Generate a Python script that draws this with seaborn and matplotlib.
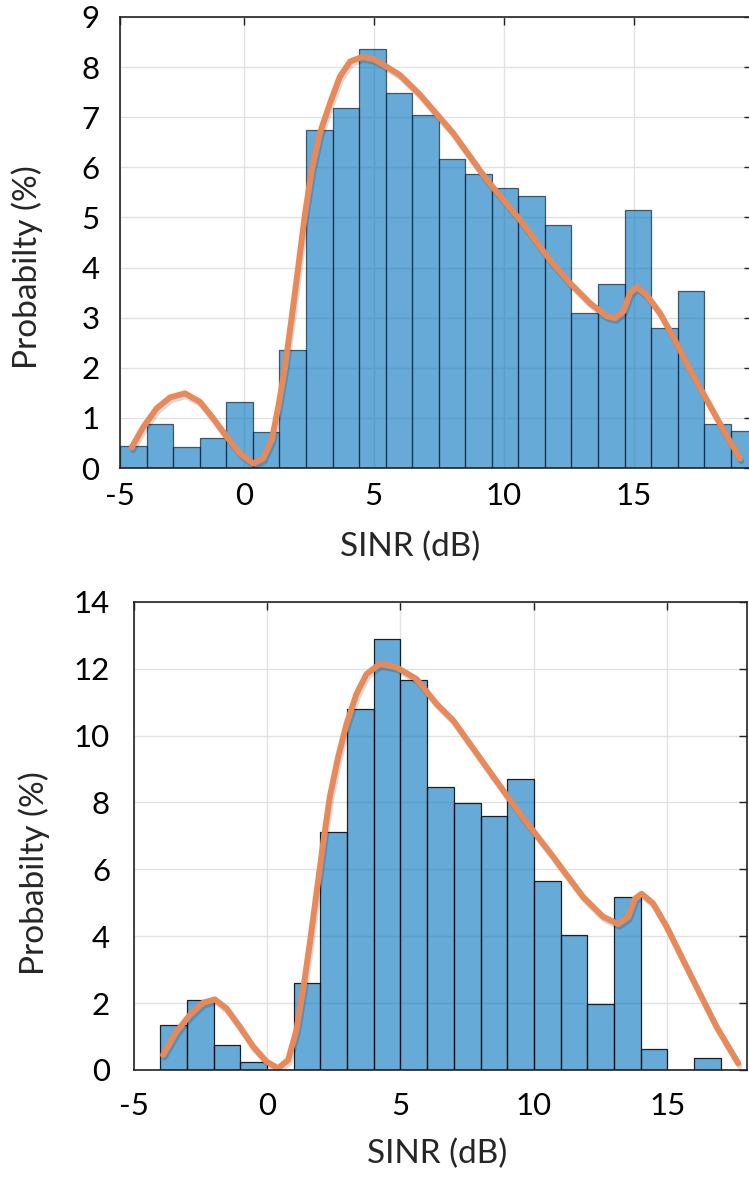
import numpy as np
import pandas as pd
import seaborn as sns
import matplotlib.pyplot as plt
import matplotlib.patheffects as pe

# --- data ---
# top panel: histogram heights (%) and smooth fit
top_heights = [0.43, 0.87, 0.42, 0.59, 1.31, 0.72, 2.35, 6.75, 7.19, 8.36, 7.48, 7.04,
               6.16, 5.87, 5.58, 5.42, 4.84, 3.09, 3.67, 5.14, 2.79, 3.53, 0.87, 0.73]
top_bin_start = -4.75
top_bin_width = 1.021
top_fit_x = [-4.31, -3.86, -3.35, -2.83, -2.26, -1.68, -1.17, -0.65, -0.14, 0.37, 0.75,
             1.08, 1.33, 1.59, 1.85, 2.1, 2.36, 2.62, 2.93, 3.32, 3.7, 4.09, 4.54, 4.98,
             5.24, 6.01, 6.78, 8.06, 9.35, 10.63, 11.78, 12.55, 13.32, 13.96, 14.28, 14.6,
             14.86, 15.12, 15.5, 16.01, 16.52, 17.17, 17.81, 18.45, 19.09]
top_fit_y = [0.41, 0.82, 1.19, 1.41, 1.49, 1.32, 0.99, 0.62, 0.29, 0.09, 0.19,
             0.56, 1.22, 2.02, 3.02, 4.02, 5.08, 5.95, 6.68, 7.28, 7.81, 8.11, 8.2, 8.16,
             8.09, 7.84, 7.45, 6.68, 5.75, 4.95, 4.15, 3.69, 3.29, 3.03, 2.99, 3.12,
             3.49, 3.61, 3.45, 3.09, 2.62, 1.96, 1.36, 0.76, 0.19]

# bottom panel
bot_heights = [1.34, 2.08, 0.74, 0.25, 0.0, 2.59, 7.13, 10.8, 12.89, 11.66, 8.46, 7.98,
               7.6, 8.71, 5.64, 4.05, 1.96, 5.16, 0.62, 0.0, 0.37]
bot_bin_start = -4.0
bot_bin_width = 1.0
bot_fit_x = [-3.9, -3.4, -2.9, -2.4, -1.96, -1.52, -1.02, -0.52, -0.02, 0.41, 0.79, 1.1,
             1.35, 1.6, 1.85, 2.1, 2.35, 2.66, 2.98, 3.35, 3.73, 4.23, 4.85, 5.6, 6.35,
             6.98, 8.23, 9.48, 10.73, 11.1, 11.85, 12.6, 13.16, 13.54, 13.79, 14.04, 14.47,
             14.98, 15.6, 16.22, 16.85, 17.66]
bot_fit_y = [0.45, 1.14, 1.64, 2.01, 2.11, 1.84, 1.29, 0.70, 0.25, 0.05, 0.30, 1.19,
             2.39, 3.78, 5.27, 6.77, 8.16, 9.35, 10.35, 11.24, 11.84, 12.14, 12.04, 11.69, 10.95,
             10.45, 9.05, 7.66, 6.37, 5.97, 5.17, 4.58, 4.36, 4.58, 5.12, 5.27, 4.98,
             4.28, 3.28, 2.29, 1.29, 0.2]

x_tick_labels = ["-5", "0", "5", "10", "15"]

sns.set_style("white")
plt.rcParams['font.family'] = ['Lato', 'DejaVu Sans']

BAR = (0.0, 0.447, 0.741, 0.6)
FIT = "#e8895a"
GRID = "#e2e2e2"

fig = plt.figure(figsize=(7.49, 11.78), dpi=100)


def draw_panel(ax, heights, start, width, fx, fy, edge, xpad, ypad):
    edges = start + width * np.arange(len(heights) + 1)
    df = pd.DataFrame({"sinr": (edges[:-1] + edges[1:]) / 2, "pct": heights})
    sns.histplot(data=df, x="sinr", weights="pct", bins=list(edges), ax=ax,
                 color="#0072bd", linewidth=0.9, zorder=2)
    for p in ax.patches:
        p.set_alpha(None)
        p.set_facecolor(BAR)
        p.set_edgecolor(edge)
    sns.lineplot(x=fx, y=fy, ax=ax, color=FIT, linewidth=4.3, sort=False,
                 estimator=None, zorder=3, solid_capstyle="round", solid_joinstyle="round",
                 path_effects=[pe.SimpleLineShadow(offset=(1, -2), alpha=0.15, shadow_color="k"),
                               pe.Normal()])
    ax.grid(True, color=GRID, linewidth=1, zorder=0)
    ax.set_axisbelow(True)
    for s in ax.spines.values():
        s.set_color("#222222")
        s.set_linewidth(1.2)
        s.set_zorder(4)
    ax.tick_params(direction="in", length=6, width=1, top=True, right=True,
                   labelsize=22.5, colors="#222222", labelcolor="black")
    ax.tick_params(axis="y", pad=ypad)
    ax.tick_params(axis="x", pad=xpad)
    ax.set_ylabel("Probabilty (%)", fontsize=24)
    ax.set_xlabel("SINR (dB)", fontsize=24)


# top panel
ax1 = fig.add_axes([0.1605, 0.6027, 0.8435, 0.3829])
draw_panel(ax1, top_heights, top_bin_start, top_bin_width, top_fit_x, top_fit_y,
           (0.05, 0.12, 0.2, 0.7), 10, 15)
ax1.set_xlim(-4.75, 19.55)
ax1.set_ylim(0, 9)
ax1.set_yticks(range(0, 10))
ax1.set_xticks([-4.75, 0, 5, 10, 15])
ax1.set_xticklabels(x_tick_labels)
ax1.yaxis.set_label_coords(-0.122, 0.445)
ax1.xaxis.set_label_coords(0.459, -0.142)

# bottom panel
ax2 = fig.add_axes([0.1785, 0.0917, 0.8192, 0.3975])
draw_panel(ax2, bot_heights, bot_bin_start, bot_bin_width, bot_fit_x, bot_fit_y,
           (0, 0, 0, 0.85), 16, 17)
ax2.set_xlim(-5, 18)
ax2.set_ylim(0, 14)
ax2.set_yticks(range(0, 15, 2))
ax2.set_xticks([-5, 0, 5, 10, 15])
ax2.set_xticklabels(x_tick_labels)
ax2.yaxis.set_label_coords(-0.136, 0.42)
ax2.xaxis.set_label_coords(0.494, -0.147)

fig.savefig("out.png", dpi=100)
